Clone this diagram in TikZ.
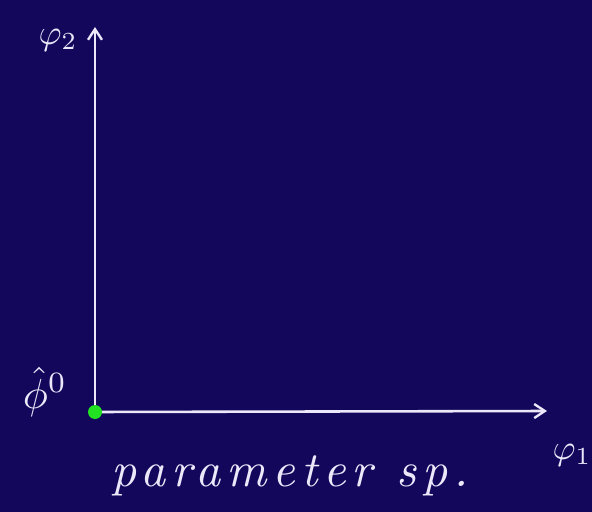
\documentclass[tikz,border=0pt]{standalone}
\usepackage{amsmath,amssymb}
\usepackage{graphicx}
\usepackage{fontspec}
\newfontfamily\handfont[LetterSpace=12]{lmroman10-italic.otf}
\usepackage{tikz}
\usetikzlibrary{arrows.meta,positioning}
\definecolor{board}{HTML}{13075C}
\definecolor{chalk}{HTML}{ECE8FA}
\definecolor{dotc}{HTML}{22E022}

\begin{document}
\begin{tikzpicture}[x=0.03cm,y=-0.03cm,
  axis/.style={chalk,line width=2.2pt,-{Straight Barb[length=3.2mm,width=4.2mm,line width=2pt]}},
  lab/.style={text=chalk,inner sep=0pt},
  hand/.style={text=chalk,inner sep=0pt,font=\handfont\fontsize{42}{46}\selectfont}]
\fill[board] (0,0) rectangle (592,512);
\useasboundingbox (0,0) rectangle (592,512);
% axes
\coordinate (orig) at (95,412);
\coordinate (ytip) at (95,27);
\coordinate (xtip) at (547,411);
\draw[axis] (orig) -- (ytip);
\draw[axis] (orig) -- (xtip);
\node[circle,fill=dotc,minimum size=4.2mm,inner sep=0pt] (start) at (orig) {};
% labels
\node[lab] (phitwo) at (58,40) {\scalebox{3}{$\varphi_2$}};
\node[lab] (phione) at (572,455) {\scalebox{3}{$\varphi_1$}};
\node[lab] (phihat) at (45,392) {\scalebox{3.6}{$\hat{\phi}^{0}$}};
\node[hand] (space) at (290,476) {parameter sp.};
\end{tikzpicture}
\end{document}
